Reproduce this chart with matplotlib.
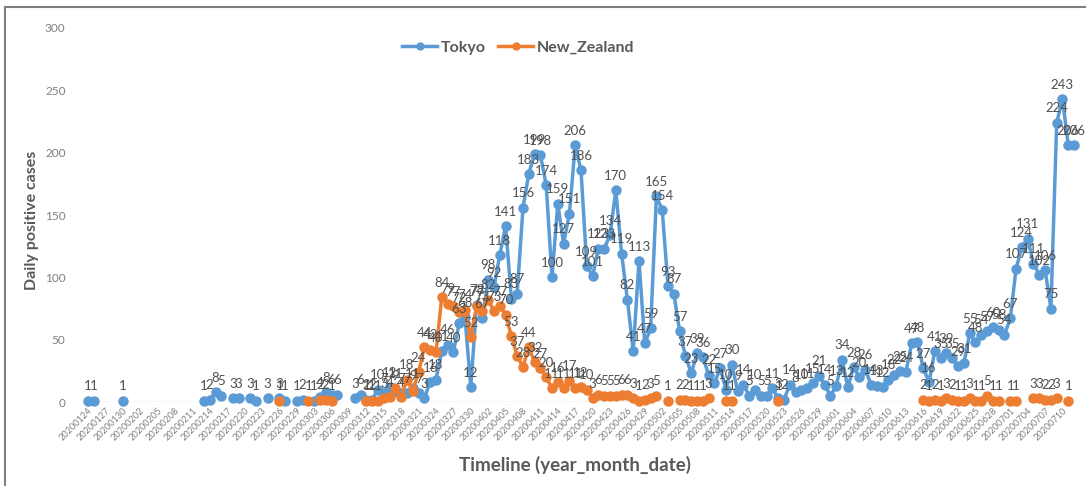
import numpy as np
import matplotlib
matplotlib.use('Agg')
import matplotlib.pyplot as plt
import pandas as pd
from matplotlib.lines import Line2D

plt.rcParams['font.family'] = ['Lato', 'DejaVu Sans']

N = None
dates = pd.date_range('2020-01-24', '2020-07-12').strftime('%Y%m%d').tolist()

tokyo = [1, 1, N, N, N, N, 1, N, N, N,
         N, N, N, N, N, N, N, N, N, N,
         1, 2, 8, 5, N, 3, 3, N, 3, 1,
         N, 3, N, 3, 1, N, 1, 2, N, 1,
         4, 8, 6, 6, N, N, 3, 6, 2, 2,
         10, 7, 12, 9, 7, 7, 11, 7, 3, 16,
         18, 41, 46, 40, 63, 68, 12, 78, 67, 98,
         92, 118, 141, 83, 87, 156, 183, 199, 198, 174,
         100, 159, 127, 151, 206, 186, 109, 101, 123, 123,
         134, 170, 119, 82, 41, 113, 47, 59, 165, 154,
         93, 87, 57, 37, 23, 39, 36, 22, 15, 27,
         10, 30, 9, 14, 5, 10, 5, 5, 11, 3,
         2, 14, 8, 10, 11, 15, 21, 14, 5, 13,
         34, 12, 28, 20, 26, 14, 13, 12, 18, 22,
         25, 24, 47, 48, 27, 16, 41, 35, 39, 35,
         29, 31, 55, 48, 54, 57, 60, 58, 54, 67,
         107, 124, 131, 111, 102, 106, 75, 224, 243, 206,
         206]

new_zealand = [N, N, N, N, N, N, N, N, N, N,
               N, N, N, N, N, N, N, N, N, N,
               N, N, N, N, N, N, N, N, N, N,
               N, N, N, 1, N, N, N, N, 1, N,
               2, 2, 1, N, N, N, N, N, 1, 1,
               1, 3, 4, 11, 4, 18, 9, 24, 44, 42,
               40, 84, 79, 77, 72, 74, 52, 77, 73, 82,
               73, 77, 70, 53, 37, 28, 44, 32, 27, 20,
               11, 16, 11, 17, 11, 12, 10, 3, 6, 5,
               5, 5, 6, 6, 3, 1, 2, 3, 5, N,
               1, N, 2, 2, 1, 1, 1, 3, N, N,
               1, 1, N, N, N, N, N, N, N, 1,
               N, N, N, N, N, N, N, N, N, N,
               N, N, N, N, N, N, N, N, N, N,
               N, N, N, N, 2, 1, 2, 1, 3, 2,
               1, 1, 3, 1, 1, 5, 1, 1, N, 1,
               1, N, N, 3, 3, 2, 2, 3, N, 1,
               N]

series_names = ['Tokyo', 'New_Zealand']
colors = ['#5B9BD5', '#ED7D31']
yticks = [0, 50, 100, 150, 200, 250, 300]

W, H = 1086, 486
fig = plt.figure(figsize=(W / 100, H / 100), dpi=100)
fig.patch.set_facecolor('white')
# chart frame (top and left edges visible in the reference crop)
fig.add_artist(Line2D([5 / W, 1.0], [1 - 7 / H, 1 - 7 / H], transform=fig.transFigure,
                      color='#7f7f7f', lw=1.5))
fig.add_artist(Line2D([5 / W, 5 / W], [0.0, 1 - 7 / H], transform=fig.transFigure,
                      color='#7f7f7f', lw=1.5))

ax = fig.add_axes([85 / W, (H - 402) / H, 992 / W, 374 / H])
x = np.arange(len(dates))
ax.set_xlim(-0.5, len(dates) - 0.5)
ax.set_ylim(0, 300)

for name, vals, c in zip(series_names, [tokyo, new_zealand], colors):
    y = np.array([np.nan if v is None else v for v in vals], dtype=float)
    ax.plot(x, y, color=c, lw=2.5, marker='o', ms=6.5, mec=c, mfc=c,
            clip_on=False, zorder=3, label=name)

for vals in [tokyo, new_zealand]:
    for i, v in enumerate(vals):
        if v is None:
            continue
        ax.annotate(str(v), (i, v), xytext=(0, 6), textcoords='offset points',
                    ha='center', va='bottom', fontsize=9.5, color='#505050',
                    zorder=4, annotation_clip=False)

for s in ax.spines.values():
    s.set_visible(False)
ax.axhline(0, color='#d9d9d9', lw=1, zorder=1)

tick_idx = list(range(0, 169, 3))
ax.set_xticks(tick_idx)
ax.set_xticklabels([dates[i] for i in tick_idx], rotation=45, ha='right',
                   rotation_mode='anchor', fontsize=6.6, color='#7f7f7f')
ax.tick_params(axis='x', length=0, pad=3)
ax.set_yticks(yticks)
ax.set_yticklabels([str(t) for t in yticks], fontsize=8.5, color='#7f7f7f')
ax.tick_params(axis='y', length=0, pad=14)

fig.text(32 / W, 1 - 220 / H, 'Daily positive cases', rotation=90, ha='center', va='center',
         fontsize=11.5, fontweight='bold', color='#595959')
fig.text(575 / W, 1 - 465 / H, 'Timeline (year_month_date)', ha='center', va='center',
         fontsize=13.5, fontweight='bold', color='#595959')

handles = [Line2D([0], [0], color=c, lw=2.5, marker='o', ms=5) for c in colors]
leg = fig.legend(handles, series_names, loc='center', bbox_to_anchor=(518 / W, 1 - 48 / H),
                 ncol=2, frameon=False, handlelength=2.2, handletextpad=0.2, columnspacing=0.8,
                 prop={'weight': 'bold', 'size': 11.5})
for t in leg.get_texts():
    t.set_color('#595959')

fig.savefig('out.png', dpi=100, facecolor='white')
